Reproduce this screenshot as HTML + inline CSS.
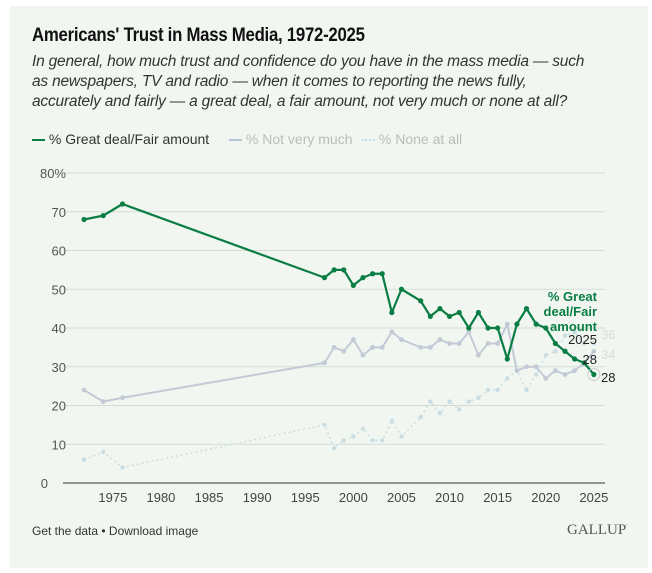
<!DOCTYPE html>
<html><head><meta charset="utf-8"><style>
body{margin:0;width:652px;height:573px;background:#fff;font-family:"Liberation Sans",sans-serif;overflow:hidden}
#card{position:absolute;left:10px;top:6px;width:638px;height:562px;background:#f1f7f0}
h1{position:absolute;left:32px;top:24px;margin:0;font-size:19.5px;font-weight:bold;color:#111;letter-spacing:-0.3px;white-space:nowrap;transform:scaleX(0.86);transform-origin:left top}
.sub{position:absolute;left:32px;top:52px;font-size:15.5px;font-style:italic;color:#333;line-height:20px;letter-spacing:-0.2px;white-space:nowrap}
.leg{position:absolute;top:131px;font-size:14px;color:#333}
.foot{position:absolute;left:32px;top:524px;font-size:12px;color:#333}
.logo{position:absolute;left:567px;top:522px;font-family:"Liberation Serif",serif;font-size:15px;color:#555}
</style></head><body>
<div id="card"></div>
<h1>Americans' Trust in Mass Media, 1972-2025</h1>
<div class="sub">In general, how much trust and confidence do you have in the mass media — such<br>as newspapers, TV and radio — when it comes to reporting the news fully,<br>accurately and fairly — a great deal, a fair amount, not very much or none at all?</div>
<div class="leg" style="left:32px"><span style="display:inline-block;width:13px;height:2px;background:#0a7d45;vertical-align:middle"></span> % Great deal/Fair amount</div>
<div class="leg" style="left:229px;color:#bbb"><span style="display:inline-block;width:13px;height:2px;background:#b8c4d4;vertical-align:middle"></span> % Not very much</div>
<div class="leg" style="left:362px;color:#bbb"><span style="display:inline-block;width:13px;border-top:2px dotted #c8dce4;vertical-align:middle"></span> % None at all</div>
<svg id="chart" width="652" height="573" style="position:absolute;left:0;top:0"></svg>
<div class="foot">Get the data • Download image</div>
<div class="logo">GALLUP<sup style="font-size:6px">'</sup></div>
<script>
const years=[1972,1974,1976,1997,1998,1999,2000,2001,2002,2003,2004,2005,2007,2008,2009,2010,2011,2012,2013,2014,2015,2016,2017,2018,2019,2020,2021,2022,2023,2024,2025];
const greatFair=[68,69,72,53,55,55,51,53,54,54,44,50,47,43,45,43,44,40,44,40,40,32,41,45,41,40,36,34,32,31,28];
const notVery=[24,21,22,31,35,34,37,33,35,35,39,37,35,35,37,36,36,39,33,36,36,41,29,30,30,27,29,28,29,31,34];
const noneAll=[6,8,4,15,9,11,12,14,11,11,16,12,17,21,18,21,19,21,22,24,24,27,29,24,28,33,34,38,39,36,36];
const yTicks=[0,10,20,30,40,50,60,70,80];
const xTicks=[1975,1980,1985,1990,1995,2000,2005,2010,2015,2020,2025];
const NS='http://www.w3.org/2000/svg';
const svg=document.getElementById('chart');
const X=y=>84+(y-1972)*9.62;
const Y=v=>483-v*3.875;
function mk(t,a){const e=document.createElementNS(NS,t);for(const k in a)e.setAttribute(k,a[k]);svg.appendChild(e);return e;}
yTicks.forEach(v=>{
 const l=mk('line',{x1:63,x2:605,y1:Y(v),y2:Y(v),stroke:v===0?'#333':'#d5dbd5','stroke-width':1});
 
 
 const t=mk('text',{x:v===0?48:66,y:Y(v)+5,'text-anchor':'end','font-size':13,fill:'#555'});
 t.textContent=v===80?'80%':v;
 
 
});
xTicks.forEach(y=>{
 const t=mk('text',{x:X(y),y:502,'text-anchor':'middle','font-size':13,fill:'#444'});
 t.textContent=y;
 
 
});
function series(vals,color,dash,w,r,name){
 const p=mk('polyline',{points:vals.map((v,i)=>X(years[i])+','+Y(v)).join(' '),fill:'none',stroke:color,'stroke-width':w,'stroke-dasharray':dash,'stroke-linejoin':'round'});
 
 
 vals.forEach((v,i)=>{
  const c=mk('circle',{cx:X(years[i]),cy:Y(v),r:r,fill:color});
  
  
 });
}
series(noneAll,'#c9dde3','2,3',1.5,2.2,'none-at-all');
series(notVery,'#c2cad6','',2,2.4,'not-very-much');
series(greatFair,'#0a7d45','',2.2,2.6,'great-deal');
const last=years.length-1;
const ring=mk('circle',{cx:X(years[last]),cy:Y(greatFair[last]),r:6,fill:'none',stroke:'#ccc'});


function lab(x,y,txt,opt,name){const t=mk('text',Object.assign({x:x,y:y,'font-size':13,fill:'#222'},opt));t.textContent=txt;}
lab(597,301,'% Great',{'text-anchor':'end','font-weight':'bold',fill:'#0a7d45'},'series-label');
lab(597,316,'deal/Fair',{'text-anchor':'end','font-weight':'bold',fill:'#0a7d45'},'series-label');
lab(597,331,'amount',{'text-anchor':'end','font-weight':'bold',fill:'#0a7d45'},'series-label');
lab(597,344,'2025',{'text-anchor':'end'},'year-label');
lab(597,364,'28',{'text-anchor':'end'},'value-label');
lab(601,339,noneAll[last],{fill:'#d8ddd8'},'end-label-none');
lab(601,359,notVery[last],{fill:'#d8ddd8'},'end-label-not-very');
lab(601,382,greatFair[last],{},'end-label-great');
</script>
</body></html>
